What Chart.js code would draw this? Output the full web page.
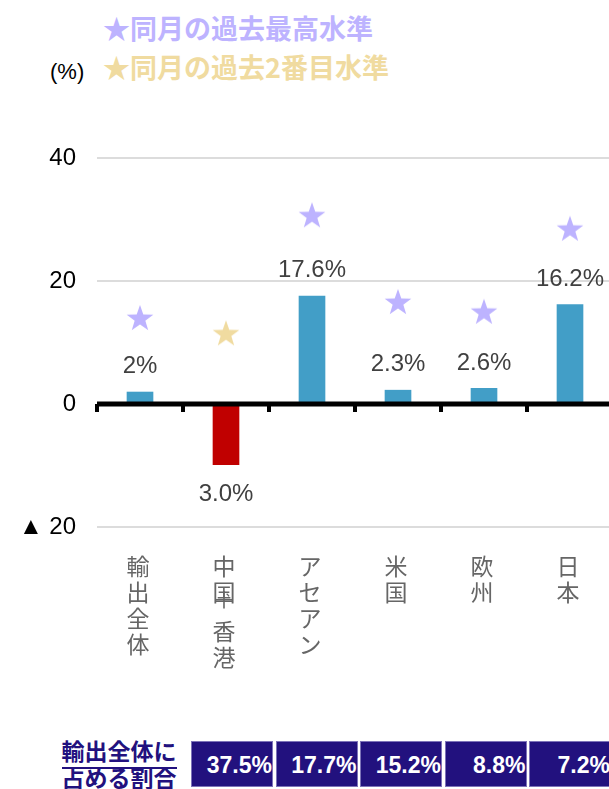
<!DOCTYPE html>
<html>
<head>
<meta charset="utf-8">
<script src="https://cdn.jsdelivr.net/npm/chart.js@4"></script>
<style>
html, body { margin:0; padding:0; overflow:hidden; background:#fff; }
#wrap { position:relative; width:613px; height:789px; }
#chart { position:absolute; left:0; top:0; width:613px; height:700px; }
.legend { position:absolute; left:103px; font-family:"Noto Sans CJK JP"; font-weight:bold; font-size:27px; line-height:27px; white-space:nowrap; }
#unit { position:absolute; left:50px; top:61px; font-family:"Liberation Sans", Arial; font-size:22px; line-height:22px; color:#000; }
#shareTitle { position:absolute; left:52px; top:737px; width:134px; text-align:center; font-family:"Noto Sans CJK JP"; font-weight:bold; font-size:23px; line-height:27px; color:#22117e; }
#shareTitle span.u { border-bottom:2px solid #22117e; }
.box { position:absolute; top:741px; height:46px; background:#22117e; color:#fff; font-family:"Liberation Sans", Arial; font-weight:bold; font-size:23px; line-height:46px; text-align:right; box-sizing:border-box; border:1px solid #7d73b8; }
</style>
</head>
<body>
<div id="wrap">
  <div class="legend" style="top:14px;color:#bdb3ff;">★同月の過去最高水準</div>
  <div class="legend" style="top:53px;color:#f0dba0;">★同月の過去2番目水準</div>
  <div id="unit">(%)</div>
  <canvas id="chart" width="613" height="700"></canvas>
  <div id="shareTitle"><span class="u">輸出全体に</span><br>占める割合</div>
  <div id="shareBoxes"></div>
</div>
<script>
// categories and values
var categories = ['輸出全体', '中国＋香港', 'アセアン', '米国', '欧州', '日本'];
var growth = [2.0, -9.9, 17.6, 2.3, 2.6, 16.2];
var growthLabels = ['2%', '3.0%', '17.6%', '2.3%', '2.6%', '16.2%'];
var recordHigh = [14.0, null, 30.7, 16.6, 15.0, 28.5];
var secondHigh = [null, 11.5, null, null, null, null];
var shares = ['37.5%', '17.7%', '15.2%', '8.8%', '7.2%'];
var yTicks = [-20, 0, 20, 40];

var blue = '#429ec7';
var red = '#c00000';
var lavender = '#bdb3ff';
var gold = '#f0dba0';

// share boxes under the chart
var boxHtml = '';
for (var i = 0; i < shares.length; i++) {
    boxHtml += '<div class="box" style="left:' + (191 + i * 84.5) + 'px;width:82px;">' + shares[i] + '</div>';
}
document.getElementById('shareBoxes').innerHTML = boxHtml;

function makeStar(color){
    var c = document.createElement('canvas');
    c.width = 28; c.height = 28;
    var g = c.getContext('2d');
    var cx = 14, cy = 15, R = 14, r = 5.6;
    g.beginPath();
    for (var k = 0; k < 10; k++) {
        var rad = (k % 2 == 0) ? R : r;
        var a = -Math.PI / 2 + k * Math.PI / 5;
        var px = cx + rad * Math.cos(a);
        var py = cy + rad * Math.sin(a);
        if (k == 0) g.moveTo(px, py); else g.lineTo(px, py);
    }
    g.closePath();
    g.fillStyle = color;
    g.fill();
    return c;
}

var barColors = [];
for (var i = 0; i < growth.length; i++) {
    barColors.push(growth[i] < 0 ? red : blue);
}

// zero line, its small ticks, bar value labels
var zeroLinePlugin = {
    id: 'zeroLine',
    afterDatasetsDraw: function(chart){
        var ctx = chart.ctx;
        var area = chart.chartArea;
        var y0 = chart.scales.y.getPixelForValue(0);
        ctx.save();
        ctx.fillStyle = '#000';
        ctx.fillRect(area.left, y0 - 2.5, area.right - area.left, 5);
        var step = (area.right - area.left) / categories.length;
        for (var i = 0; i <= categories.length; i++) {
            var tx = area.left + i * step;
            ctx.fillRect(tx - 2, y0, 4, 8);
        }
        var meta = chart.getDatasetMeta(0);
        ctx.font = '24px "Liberation Sans", Arial';
        ctx.fillStyle = '#404040';
        ctx.textAlign = 'center';
        ctx.textBaseline = 'middle';
        meta.data.forEach(function(el, i){
            var ly = growth[i] >= 0 ? el.y - 25 : el.y + 29;
            ctx.fillText(growthLabels[i], el.x, ly);
        });
        ctx.restore();
    }
};

// vertical category labels
var catLabelPlugin = {
    id: 'catLabels',
    afterDraw: function(chart){
        var ctx = chart.ctx;
        var xs = chart.scales.x;
        ctx.save();
        ctx.font = '23px "Noto Sans CJK JP"';
        ctx.fillStyle = '#666';
        ctx.textAlign = 'center';
        ctx.textBaseline = 'middle';
        for (var i = 0; i < categories.length; i++) {
            var x = xs.getPixelForValue(i) - 2;
            var y = 566;
            var chars = Array.from(categories[i]);
            for (var j = 0; j < chars.length; j++) {
                if (chars[j] == '＋') {
                    ctx.fillText(chars[j], x, y - 19);
                    y += 13;
                } else {
                    ctx.fillText(chars[j], x, y);
                    y += 26;
                }
            }
        }
        ctx.restore();
    }
};

var ctx = document.getElementById('chart').getContext('2d');
var chart = new Chart(ctx, {
    type: 'bar',
    data: {
        labels: categories,
        datasets: [{
            label: '伸び率',
            data: growth,
            backgroundColor: barColors,
            categoryPercentage: 1,
            barPercentage: 0.31,
            order: 2
        }, {
            type: 'line',
            label: '同月の過去最高水準',
            data: recordHigh,
            showLine: false,
            pointStyle: makeStar(lavender),
            order: 1
        }, {
            type: 'line',
            label: '同月の過去2番目水準',
            data: secondHigh,
            showLine: false,
            pointStyle: makeStar(gold),
            order: 1
        }]
    },
    options: {
        responsive: false,
        animation: false,
        layout: { autoPadding: false, padding: { top: 158, bottom: 173, left: 0, right: 0 } },
        plugins: {
            legend: { display: false },
            tooltip: { enabled: false }
        },
        scales: {
            x: {
                display: false
            },
            y: {
                min: -20,
                max: 40,
                afterFit: function(scale){ scale.width = 97; },
                afterBuildTicks: function(scale){
                    scale.ticks = yTicks.map(function(v){ return { value: v }; });
                },
                border: { display: false },
                grid: {
                    drawTicks: false,
                    lineWidth: function(c){ return c.tick && c.tick.value == 0 ? 0 : 2; },
                    color: '#dcdcdc'
                },
                ticks: {
                    padding: 21,
                    color: '#000',
                    font: { family: '"Liberation Sans", Arial', size: 24 },
                    callback: function(v){ return v < 0 ? '▲ ' + Math.abs(v) : v; }
                }
            }
        }
    },
    plugins: [zeroLinePlugin, catLabelPlugin]
});
</script>
</body>
</html>
